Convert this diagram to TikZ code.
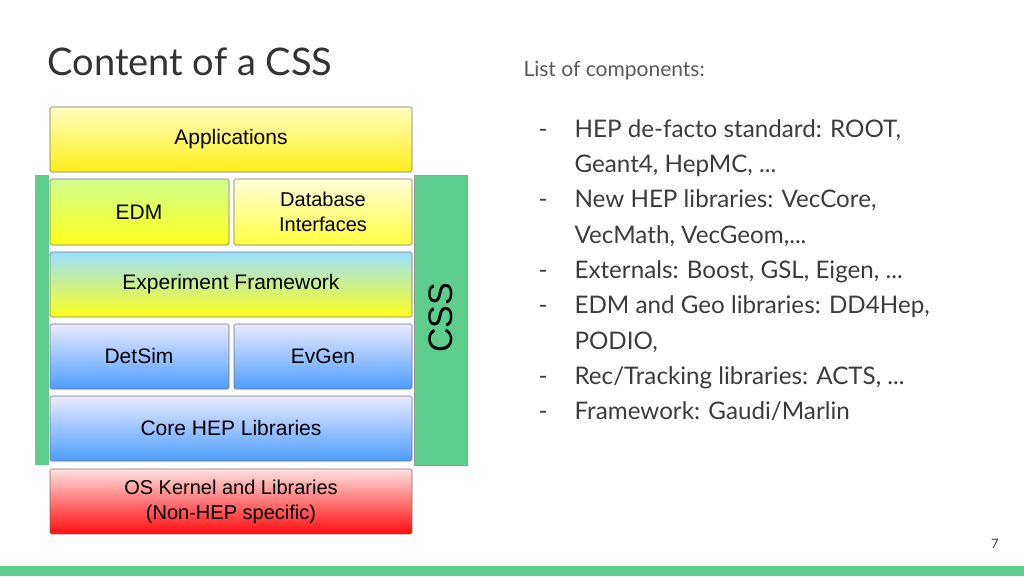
\documentclass[tikz,border=0pt]{standalone}
\usepackage{fontspec}
\setmainfont{Lato}
\newfontfamily\arial{Liberation Sans}
\definecolor{grn}{RGB}{94,206,142}
\definecolor{txt}{RGB}{60,60,60}
\begin{document}
\begin{tikzpicture}[x=1pt,y=-1pt,
 blk/.style={draw=black!55,line width=0.6pt,rounded corners=1.5pt},
 bt/.style={font=\arial\fontsize{21}{25}\selectfont,align=center},
 lt/.style={anchor=base west,font=\fontsize{24.2}{28}\selectfont,text=txt}]
\useasboundingbox (0,0) rectangle (1024,576);
\fill[grn] (0,566) rectangle (1024,576);
\node[anchor=west,font=\fontsize{38}{42}\selectfont,text=black!80] (title) at (44,62) {Content of a CSS};
\fill[grn] (35,175) rectangle (49,465);
\fill[grn,draw=black!40,line width=0.4pt] (414,175) rectangle (467,465);
\node[rotate=90,font=\fontsize{34}{40}\selectfont\arial] (css) at (441,318) {CSS};
\shade[blk,top color=yellow!25,bottom color=yellow!85!orange!90] (50,107) rectangle (412,172);
\node[bt] (app) at (231,139) {Applications};
\shade[blk,top color=yellow!60!green!45!white,bottom color=yellow!90] (50,179) rectangle (229,245);
\node[bt] (edm) at (139,212) {EDM};
\shade[blk,top color=yellow!15,bottom color=yellow!75] (234,179) rectangle (412,245);
\node[bt,font=\arial\fontsize{20}{25}\selectfont] (db) at (323,212) {Database\\Interfaces};
\shade[blk,top color=blue!30!cyan!40,bottom color=yellow!90] (50,252) rectangle (412,317);
\node[bt] (fw) at (231,284) {Experiment Framework};
\shade[blk,top color=blue!8,bottom color=blue!55!cyan!70] (50,324) rectangle (229,389);
\node[bt] (ds) at (139,356) {DetSim};
\shade[blk,top color=blue!8,bottom color=blue!55!cyan!70] (234,324) rectangle (412,389);
\node[bt] (eg) at (323,356) {EvGen};
\shade[blk,top color=blue!8,bottom color=blue!55!cyan!70] (50,396) rectangle (412,461);
\node[bt] (core) at (231,428) {Core HEP Libraries};
\shade[blk,top color=red!12,bottom color=red!95] (50,469) rectangle (412,534);
\node[bt,font=\arial\fontsize{20}{25}\selectfont] (os) at (231,502) {OS Kernel and Libraries\\(Non-HEP specific)};
\node[anchor=west,font=\fontsize{21}{25}\selectfont,text=black!65] (loc) at (520,71) {List of components:};
\node[lt] (d1) at (535,137) {-}; \node[lt] (l1) at (571,137) {HEP de-facto standard: ROOT,};
\node[lt] (l2) at (571,172) {Geant4, HepMC, ...};
\node[lt] (d3) at (535,207) {-}; \node[lt] (l3) at (571,207) {New HEP libraries: VecCore,};
\node[lt] (l4) at (571,243) {VecMath, VecGeom,...};
\node[lt] (d5) at (535,278) {-}; \node[lt] (l5) at (571,278) {Externals: Boost, GSL, Eigen, ...};
\node[lt] (d6) at (535,313) {-}; \node[lt] (l6) at (571,313) {EDM and Geo libraries: DD4Hep,};
\node[lt] (l7) at (571,349) {PODIO,};
\node[lt] (d8) at (535,384) {-}; \node[lt] (l8) at (571,384) {Rec/Tracking libraries: ACTS, ...};
\node[lt] (d9) at (535,419) {-}; \node[lt] (l9) at (571,419) {Framework: Gaudi/Marlin};
\node[font=\fontsize{13}{15}\selectfont,text=black!75] (pg) at (995,544) {7};
\end{tikzpicture}
\end{document}
